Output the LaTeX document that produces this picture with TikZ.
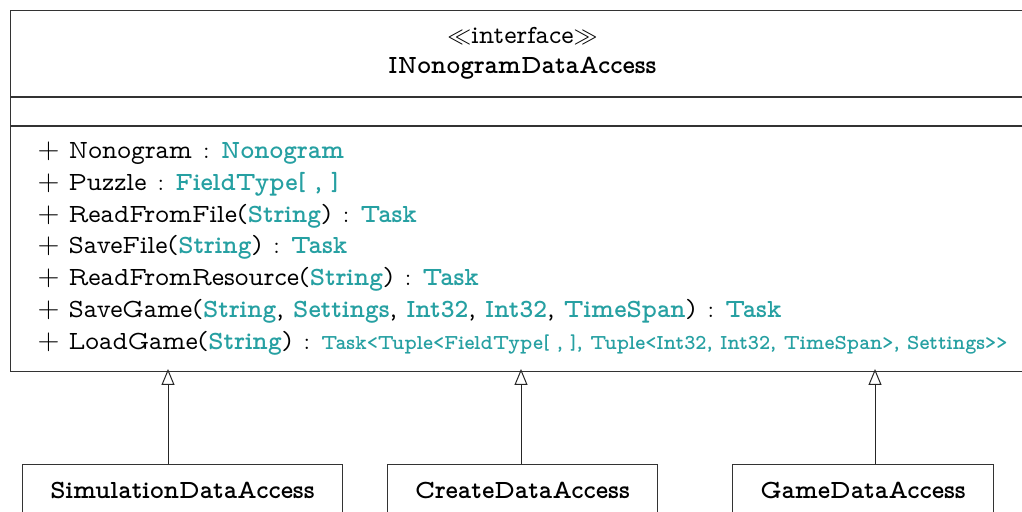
\documentclass[tikz,border=0pt]{standalone}
\usepackage{amsmath}
\usepackage{amssymb}
\usepackage{xcolor}
\renewcommand{\rmdefault}{lmvtt}
\usetikzlibrary{arrows.meta,positioning}
\definecolor{typeteal}{RGB}{38,160,162}
\newcommand{\ty}[1]{\textcolor{typeteal}{\bfseries #1}}
\newcommand{\cl}{\hspace{1pt} $:$ \hspace{1pt}}
\newcommand{\pl}{{\fontsize{15.5}{15.9}\selectfont$+$}\ }

\begin{document}
\begin{tikzpicture}[x=0.5pt,y=-0.5pt,line width=0.5pt,font=\fontsize{13.1}{15.9}\selectfont,
		                    classbox/.style={draw=black!80,inner sep=0pt,anchor=north west},
		                    impl/.style={draw=black!85,-{Triangle[open,length=8pt,width=6.5pt]}}]

			\useasboundingbox (0,0) rectangle (1022,512);

			% Interface
			\node[classbox,minimum width=512pt,minimum height=43pt,align=center] (head) at (10,10)
				{\raisebox{-1pt}{$\ll$interface$\gg$}\\[0pt]\textbf{INonogramDataAccess}};
			\node[classbox,minimum width=512pt,minimum height=14pt] (attr) at (head.south west) {};
			\node[classbox,minimum width=512pt,minimum height=122.5pt] (ops) at (attr.south west) {};
			\node[anchor=north west,inner sep=0pt,align=left] (opstext) at (37,141.5)
				{\pl Nonogram\cl\ty{Nonogram}\\
				 \pl Puzzle\cl\ty{FieldType[ , ]}\\
				 \pl ReadFromFile(\ty{String})\cl\ty{Task}\\
				 \pl SaveFile(\ty{String})\cl\ty{Task}\\
				 \pl ReadFromResource(\ty{String})\cl\ty{Task}\\
				 \pl SaveGame(\ty{String}, \ty{Settings}, \ty{Int32}, \ty{Int32}, \ty{TimeSpan})\cl\ty{Task}\\
				 \pl LoadGame(\ty{String})\cl{\fontsize{10.6}{15.9}\selectfont\ty{Task<Tuple<FieldType[ , ], Tuple<Int32, Int32, TimeSpan>, Settings>{}>}}};

			% Implementations
			\node[classbox,minimum width=160pt,minimum height=26pt] (sim) at (22,464) {\textbf{SimulationDataAccess}};
			\node[classbox,minimum width=135pt,minimum height=26pt] (create) at (387,464) {\textbf{CreateDataAccess}};
			\node[classbox,minimum width=130.5pt,minimum height=26pt] (game) at (732,464) {\textbf{GameDataAccess}};

			% Realization edges
			\coordinate (p1) at (168,369);
			\coordinate (p2) at (521,369);
			\coordinate (p3) at (875,369);
			\draw[impl] (sim.north -| p1) -- (p1);
			\draw[impl] (create.north -| p2) -- (p2);
			\draw[impl] (game.north -| p3) -- (p3);

		\end{tikzpicture}
\end{document}
